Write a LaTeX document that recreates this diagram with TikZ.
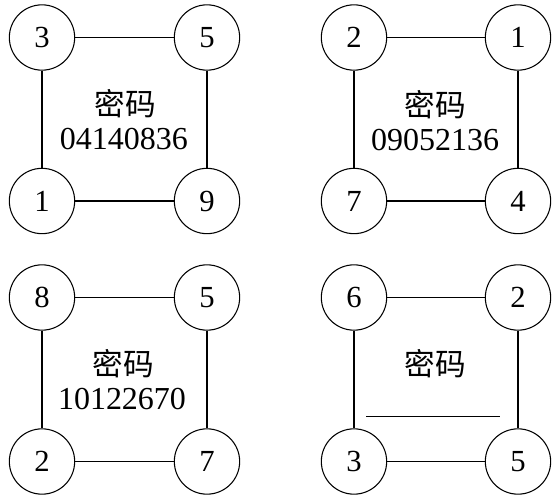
\documentclass[tikz,border=0pt]{standalone}
\usepackage{fontspec}
\setmainfont{Liberation Serif}
\newfontfamily\cjk{Noto Sans CJK SC}
\begin{document}
\begin{tikzpicture}[x=0.75pt,y=-0.75pt,
  digit/.style={circle,draw,line width=0.8pt,minimum size=49pt,inner sep=0pt,font=\fontsize{23}{23}\selectfont},
  link/.style={line width=0.8pt},
  lbl/.style={inner sep=0pt,font=\fontsize{23}{23}\selectfont\cjk},
  code/.style={inner sep=0pt,font=\fontsize{24}{24}\selectfont}]
\useasboundingbox (0,0) rectangle (554,500);
% panel 1
\node[digit] (a1) at (42,37.5) {3};
\node[digit] (a2) at (207,37.5) {5};
\node[digit] (a3) at (42,201) {1};
\node[digit] (a4) at (207,201) {9};
\draw[link] (a1) -- (a2); \draw[link] (a3) -- (a4);
\draw[link] (a1) -- (a3); \draw[link] (a2) -- (a4);
\node[lbl] (ta) at (125,104) {密码};
\node[code] (ca) at (124,139) {04140836};
% panel 2
\node[digit] (b1) at (354,37.5) {2};
\node[digit] (b2) at (518,37.5) {1};
\node[digit] (b3) at (354,201) {7};
\node[digit] (b4) at (518,201) {4};
\draw[link] (b1) -- (b2); \draw[link] (b3) -- (b4);
\draw[link] (b1) -- (b3); \draw[link] (b2) -- (b4);
\node[lbl] (tb) at (435,105) {密码};
\node[code] (cb) at (435,140) {09052136};
% panel 3
\node[digit] (c1) at (42,297.5) {8};
\node[digit] (c2) at (207,297.5) {5};
\node[digit] (c3) at (42,461.5) {2};
\node[digit] (c4) at (207,461.5) {7};
\draw[link] (c1) -- (c2); \draw[link] (c3) -- (c4);
\draw[link] (c1) -- (c3); \draw[link] (c2) -- (c4);
\node[lbl] (tc) at (123,364) {密码};
\node[code] (cc) at (122,399) {10122670};
% panel 4
\node[digit] (d1) at (354,297.5) {6};
\node[digit] (d2) at (518,297.5) {2};
\node[digit] (d3) at (354,461.5) {3};
\node[digit] (d4) at (518,461.5) {5};
\draw[link] (d1) -- (d2); \draw[link] (d3) -- (d4);
\draw[link] (d1) -- (d3); \draw[link] (d2) -- (d4);
\node[lbl] (td) at (435,364) {密码};
\coordinate (l1) at (366,416.5);
\coordinate (l2) at (500,416.5);
\draw[link] (l1) -- (l2);
\end{tikzpicture}
\end{document}
